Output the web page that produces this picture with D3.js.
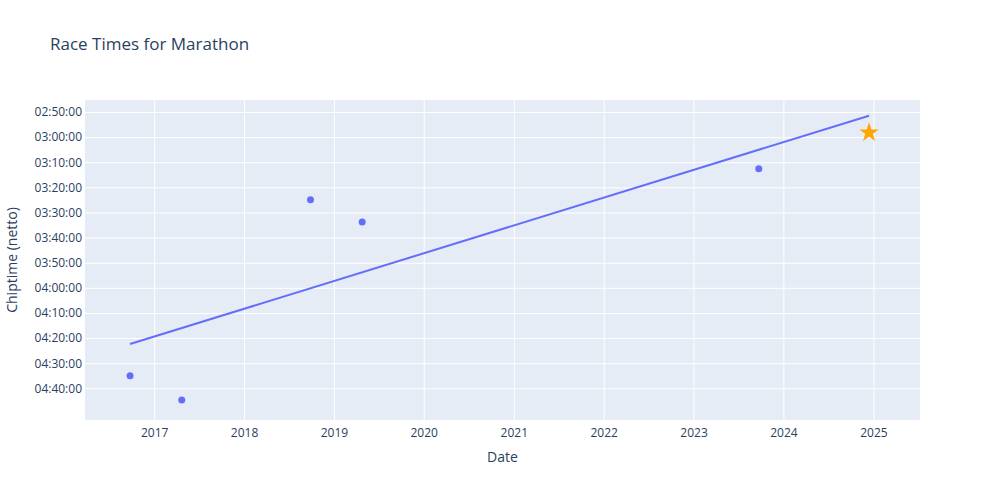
<!DOCTYPE html>
<html>
<head>
<meta charset="utf-8">
<script src="https://cdn.jsdelivr.net/npm/d3@7"></script>
<style>
  body { margin: 0; background: #fff; }
  svg { font-family: "Open Sans", verdana, arial, sans-serif; }
</style>
</head>
<body>
<div id="chart"></div>
<script>
// race data
const raceDates = ["2016-09-25", "2017-04-23", "2018-09-28", "2019-04-26", "2023-09-23"];
const raceTimes = ["04:35:00", "04:44:40", "03:24:55", "03:33:47", "03:12:34"];

const goalDate = "2024-12-14";
const goalTime = "02:58:12";

const trendDates = ["2016-09-25", "2024-12-14"];
const trendTimes = ["04:22:22", "02:51:28"];

const xTickYears = ["2017", "2018", "2019", "2020", "2021", "2022", "2023", "2024", "2025"];
const yTickLabels = ["02:50:00", "03:00:00", "03:10:00", "03:20:00", "03:30:00", "03:40:00",
                     "03:50:00", "04:00:00", "04:10:00", "04:20:00", "04:30:00", "04:40:00"];

const xDomain = ["2016-03-26", "2025-07-09"];
const yDomain = ["02:45:13", "04:52:37"];

const W = 1000, H = 500;
const plot = {left: 85, right: 920, top: 100, bottom: 420};
const textColor = "#2a3f5f";

const parseDate = d3.utcParse("%Y-%m-%d");
const toSec = (s) => {
    let [h, m, sec] = s.split(":").map(Number);
    return h * 3600 + m * 60 + sec;
};

const svg = d3.select("#chart")
    .append("svg")
    .attr("width", W)
    .attr("height", H);

svg.append("rect")
    .attr("x", plot.left)
    .attr("y", plot.top)
    .attr("width", plot.right - plot.left)
    .attr("height", plot.bottom - plot.top)
    .attr("fill", "#E5ECF6");

const x = d3.scaleUtc()
    .domain(xDomain.map(parseDate))
    .range([plot.left, plot.right]);

const y = d3.scaleLinear()
    .domain(yDomain.map(toSec))
    .range([plot.top, plot.bottom]);

// x axis
const xAxis = d3.axisBottom(x)
    .tickValues(xTickYears.map(yr => parseDate(yr + "-01-01")))
    .tickFormat(d3.utcFormat("%Y"))
    .tickSize(-(plot.bottom - plot.top))
    .tickPadding(8);

const gx = svg.append("g")
    .attr("transform", `translate(0,${plot.bottom})`)
    .call(xAxis);
gx.select(".domain").remove();
gx.selectAll("line").attr("stroke", "#fff").attr("stroke-width", 1);
gx.selectAll("text")
    .attr("fill", textColor)
    .attr("font-size", 12)
    .attr("font-family", "'Open Sans', verdana, arial, sans-serif");

// y axis
const yAxis = d3.axisLeft(y)
    .tickValues(yTickLabels.map(toSec))
    .tickFormat((d, i) => yTickLabels[i])
    .tickSize(-(plot.right - plot.left))
    .tickPadding(3);

const gy = svg.append("g")
    .attr("transform", `translate(${plot.left},0)`)
    .call(yAxis);
gy.select(".domain").remove();
gy.selectAll("line").attr("stroke", "#fff").attr("stroke-width", 1);
gy.selectAll("text")
    .attr("fill", textColor)
    .attr("font-size", 12)
    .attr("font-family", "'Open Sans', verdana, arial, sans-serif");

// trend line
const line = d3.line()
    .x(d => x(parseDate(d[0])))
    .y(d => y(toSec(d[1])));

svg.append("path")
    .datum(d3.zip(trendDates, trendTimes))
    .attr("d", line)
    .attr("fill", "none")
    .attr("stroke", "#636efa")
    .attr("stroke-width", 2);

// race points
svg.append("g")
    .selectAll("circle")
    .data(d3.zip(raceDates, raceTimes))
    .enter()
    .append("circle")
    .attr("cx", d => x(parseDate(d[0])))
    .attr("cy", d => y(toSec(d[1])))
    .attr("r", 3.5)
    .attr("fill", "#636efa");

// goal star
svg.append("path")
    .attr("d", d3.symbol().type(d3.symbolStar).size(120)())
    .attr("transform", `translate(${x(parseDate(goalDate))},${y(toSec(goalTime))})`)
    .attr("fill", "#FFA500");

// titles
svg.append("text")
    .attr("x", 50)
    .attr("y", 50)
    .attr("fill", textColor)
    .attr("font-size", 17)
    .text("Race Times for Marathon");

svg.append("text")
    .attr("x", (plot.left + plot.right) / 2)
    .attr("y", 462)
    .attr("text-anchor", "middle")
    .attr("fill", textColor)
    .attr("font-size", 14)
    .text("Date");

svg.append("text")
    .attr("transform", `translate(16.5,${(plot.top + plot.bottom) / 2}) rotate(-90)`)
    .attr("text-anchor", "middle")
    .attr("fill", textColor)
    .attr("font-size", 14)
    .text("Chiptime (netto)");
</script>
</body>
</html>
